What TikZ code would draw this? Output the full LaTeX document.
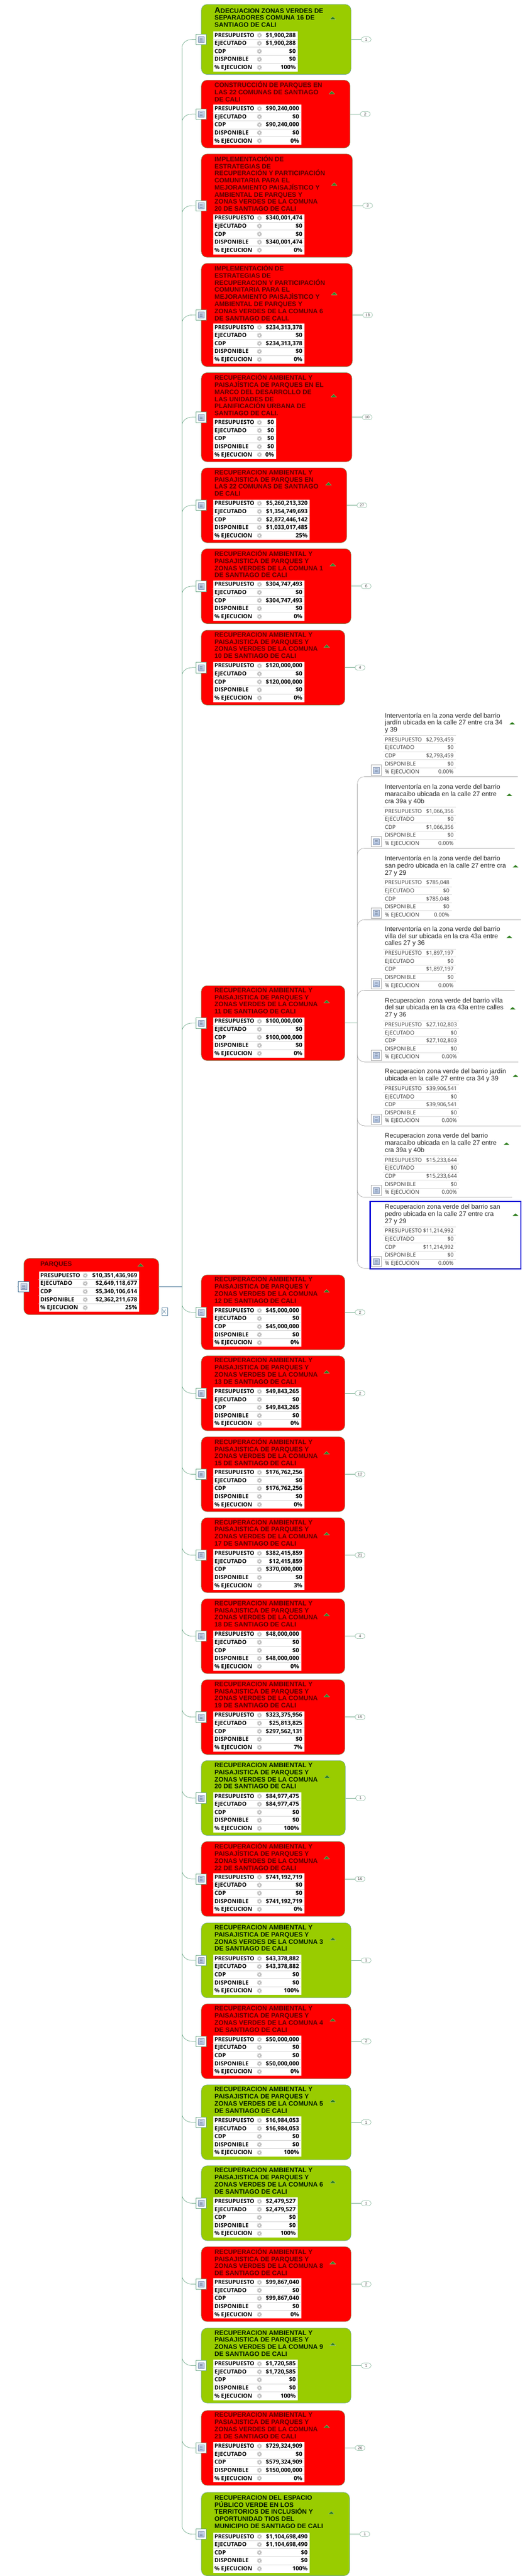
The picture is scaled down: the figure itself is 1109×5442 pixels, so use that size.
\documentclass[tikz,border=0pt]{standalone}
\usepackage{fontspec}
\setmainfont{Liberation Sans}
\newfontfamily\tablafont{Open Sans}
\usetikzlibrary{positioning}

\definecolor{rojo}{HTML}{FF0000}
\definecolor{verdeobra}{HTML}{99CC00}
\definecolor{bordeverde}{HTML}{6FA98A}
\definecolor{azulraiz}{HTML}{3A6A8F}
\definecolor{trigris}{HTML}{2F7F1F}
\definecolor{icono}{HTML}{A9BCDC}

\tikzset{
  tarjetaroja/.style={fill=rojo,draw=red!55!green!60!black!70,line width=0.6pt},
  tarjetaverde/.style={fill=verdeobra,draw=bordeverde,line width=0.6pt},
  tarjeta/.style={rectangle,rounded corners=9pt,anchor=north west,inner sep=0pt},
  tituloroja/.style={text=red!35!black},
  tituloverde/.style={text=black!90!green},
  titulo/.style={align=left,anchor=west,inner sep=0pt,font=\fontsize{10.25}{11.25}\selectfont\bfseries},
  titulohijo/.style={align=left,anchor=west,inner sep=0pt,text=black!85,font=\fontsize{10.3}{11.25}\selectfont},
  fondotabla/.style={fill=white,anchor=north west,inner sep=0pt},
  rotulo/.style={anchor=base west,inner sep=0pt,font=\tablafont\fontsize{9}{10}\selectfont\bfseries},
  cifra/.style={anchor=base east,inner sep=0pt,font=\tablafont\fontsize{9.2}{10}\selectfont\bfseries},
  rotulohijo/.style={anchor=base west,inner sep=0pt,text=black!80,font=\tablafont\fontsize{8.6}{10}\selectfont},
  cifrahijo/.style={anchor=base east,inner sep=0pt,text=black!80,font=\tablafont\fontsize{8.6}{10}\selectfont},
  nota/.style={fill=white,draw=bordeverde,line width=0.6pt,minimum size=16.5pt,inner sep=0pt},
  notagris/.style={fill=white,draw=gray!70,line width=0.6pt,minimum size=16.5pt,inner sep=0pt},
  notaraiz/.style={fill=white,draw=azulraiz,line width=0.6pt,minimum size=16.5pt,inner sep=0pt},
  notaicono/.style={top color=icono!60,bottom color=icono,draw=icono!80!black,line width=0.2pt,minimum size=9.5pt,inner sep=0pt,
    path picture={\foreach \d in {-2.2pt,0pt,2.2pt}
      \draw[icono!70!black,line width=0.25pt] ([xshift=2.5pt,yshift=\d]path picture bounding box.west) -- ([xshift=-2.5pt,yshift=\d]path picture bounding box.east);}},
  hoja/.style={draw=bordeverde,fill=white,rounded corners=4pt,minimum width=15.75pt,minimum height=8pt,inner sep=0pt,text=black!70,font=\fontsize{6.5}{8}\selectfont},
  ramalverde/.style={draw=bordeverde,line width=0.6pt},
  ramalgris/.style={draw=gray!75,line width=0.5pt},
  barragris/.style={draw=gray!65,line width=1.3pt},
  seleccion/.style={draw=blue!85!black,line width=1.7pt},
  engrane/.pic={
    \draw[gray!50,line width=1.1pt,dash pattern=on 1.2pt off 1pt] (0,0) circle (4.7);
    \draw[gray!55,line width=1.3pt] (0,0) circle (2.9);
  }
}

\newcommand{\nombrefila}[1]{\ifcase#1\or PRESUPUESTO\or EJECUTADO\or CDP\or DISPONIBLE\or \%~EJECUCION\fi}

% left edge of a card, and the indent of its table
\def\izq{425}
\def\sangria{25}

% name, top, right, table right, roja/verde, lines of title, title, values
\newcommand{\tarjeta}[8]{
  \pgfmathsetmacro\ttop{#2+7+15*#6}
  \pgfmathsetmacro\fondo{\ttop+91}
  \pgfmathsetmacro\medio{(#2+\fondo)/2}
  \pgfmathsetmacro\ancho{(#3-\izq)*0.75}
  \pgfmathsetmacro\alto{(\fondo-#2)*0.75}
  \pgfmathsetmacro\ytit{#2+(\ttop-#2)/2-1}
  \pgfmathsetmacro\xtab{\izq+\sangria}
  \pgfmathsetmacro\anchotab{(#4-\xtab)*0.75}
  \node[tarjeta,tarjeta#5,minimum width=\ancho pt,minimum height=\alto pt] (#1) at (\izq,#2) {};
  \node[titulo,titulo#5] (#1-titulo) at (\xtab+3,\ytit) {#7};
  \fill[trigris,draw=white!55!trigris,line width=0.3pt] (#3-44,\ytit+4.5) -- (#3-32,\ytit+4.5) -- (#3-38,\ytit-1.5) -- cycle;
  \node[fondotabla,minimum width=\anchotab pt,minimum height=63.75pt] (#1-tabla) at (\xtab,\ttop) {};
  \foreach \valor [count=\i] in {#8}{
    \pgfmathsetmacro\fila{\ttop+17*\i-8.5}
    \node[rotulo] (#1-r\i) at (\xtab+3,\fila+4) {\nombrefila{\i}};
    \node[cifra] (#1-v\i) at (#4-4,\fila+4) {\valor};
    \pic at (\xtab+98,\fila) {engrane};
    \ifnum\i<5 \draw[gray!35,line width=0.6pt] (\xtab,\fila+8.5) -- (#4,\fila+8.5); \fi
  }
}

% note box on the left of a card, with its branch from the green bus
\newcommand{\notacaja}[2]{
  \node[#2] (#1-nota) at (#1.west) {};
  \node[notaicono] (#1-icono) at (#1-nota) {};
}

\newcommand{\ramal}[1]{
  \notacaja{#1}{nota}
  \pgfmathsetmacro\signo{\medio<2720 ? 1 : -1}
  \pgfmathsetmacro\cruce{\medio+\signo*18}
  \coordinate (#1-cruce) at (384.5,\cruce);
  \draw[ramalverde] (#1-nota.west) -- ++(-8,0) .. controls +(-12,0) and +(0,{-\signo*10}) .. (#1-cruce);
}

\newcommand{\hojita}[2]{
  \node[hoja,right=15.75pt of #1] (#1-hoja) {#2};
  \draw[ramalverde] (#1) -- (#1-hoja);
}

% name, line y, line right, table right, lines of title, title, values
\newcommand{\hijo}[7]{
  \pgfmathsetmacro\ttop{#2-87}
  \pgfmathsetmacro\ytit{\ttop-2-7.5*#5-2}
  \pgfmathsetmacro\ancho{(#3-770)*0.75}
  \node[minimum width=\ancho pt,minimum height=5pt,anchor=south west,inner sep=0pt] (#1) at (770,#2) {};
  \node[titulohijo] (#1-titulo) at (813,\ytit) {#6};
  \fill[trigris] (#3-17,\ytit+3) -- (#3-5,\ytit+3) -- (#3-11,\ytit-2) -- cycle;
  \foreach \valor [count=\i] in {#7}{
    \pgfmathsetmacro\fila{\ttop+17*\i-8.5}
    \node[rotulohijo] (#1-r\i) at (813,\fila+4) {\nombrefila{\i}};
    \node[cifrahijo] (#1-v\i) at (#4-4.5,\fila+4) {\valor};
    \draw[gray!30,line width=0.6pt] (810,\fila-8.5) -- (#4,\fila-8.5);
  }
  \node[notagris] (#1-nota) at (795,#2-14) {};
  \node[notaicono] (#1-icono) at (#1-nota) {};
  \draw[ramalgris] (#1.south east) -- (#1.south west);
}

\begin{document}
\begin{tikzpicture}[x=0.75pt,y=-0.75pt]
\useasboundingbox (0,0) rectangle (1109,5442);

%root
\begin{scope}
\def\izq{50}
\def\sangria{32}
\tarjeta{raiz}{2658}{335}{294}{roja}{1.4}{PARQUES}{{\$10,351,436,969},{\$2,649,118,677},{\$5,340,106,614},{\$2,362,211,678},{25\%}}
\notacaja{raiz}{notaraiz}
\end{scope}
\coordinate (raiz-punta) at ([xshift=-1.5pt]raiz-nota.west);
\draw[azulraiz,line width=0.6pt] (raiz-nota.west) -- (raiz-punta);

%cards above the root
\tarjeta{p1}{9}{741}{629}{verde}{3.33}{{\fontsize{13}{13}\selectfont A}DECUACION ZONAS VERDES DE\\SEPARADORES  COMUNA 16 DE\\SANTIAGO DE CALI}{{\$1,900,288},{\$1,900,288},{\$0},{\$0},{100\%}}
\ramal{p1}\hojita{p1}{1}
\tarjeta{p2}{169}{739}{636}{roja}{3}{CONSTRUCCIÓN DE PARQUES EN\\LAS 22 COMUNAS DE SANTIAGO\\DE CALI}{{\$90,240,000},{\$0},{\$90,240,000},{\$0},{0\%}}
\ramal{p2}\hojita{p2}{2}
\tarjeta{p3}{325}{744}{643}{roja}{8}{IMPLEMENTACIÓN DE\\ESTRATEGIAS DE\\RECUPERACIÓN Y PARTICIPACIÓN\\COMUNITARIA PARA EL\\MEJORAMIENTO PAISAJÍSTICO Y\\AMBIENTAL DE PARQUES Y\\ZONAS VERDES DE LA COMUNA\\20 DE SANTIAGO DE CALI}{{\$340,001,474},{\$0},{\$0},{\$340,001,474},{0\%}}
\ramal{p3}\hojita{p3}{3}
\tarjeta{p4}{556}{744}{643}{roja}{8}{IMPLEMENTACIÓN DE\\ESTRATEGIAS DE\\RECUPERACION Y PARTICIPACIÓN\\COMUNITARIA PARA EL\\MEJORAMIENTO PAISAJÌSTICO Y\\AMBIENTAL DE PARQUES Y\\ZONAS VERDES DE LA COMUNA 6\\DE SANTIAGO DE CALI.}{{\$234,313,378},{\$0},{\$234,313,378},{\$0},{0\%}}
\ramal{p4}\hojita{p4}{18}
\tarjeta{p5}{787}{743}{583}{roja}{6}{RECUPERACIÓN AMBIENTAL Y\\PAISAJÍSTICA DE PARQUES EN EL\\MARCO DEL DESARROLLO DE\\LAS UNIDADES DE\\PLANIFICACIÓN URBANA DE\\SANTIAGO DE CALI.}{{\$0},{\$0},{\$0},{\$0},{0\%}}
\ramal{p5}\hojita{p5}{10}
\tarjeta{p6}{988}{732}{654}{roja}{4}{RECUPERACION AMBIENTAL Y\\PAISAJISTICA DE PARQUES EN\\LAS 22 COMUNAS DE SANTIAGO\\DE CALI}{{\$5,260,213,320},{\$1,354,749,693},{\$2,872,446,142},{\$1,033,017,485},{25\%}}
\ramal{p6}\hojita{p6}{27}
\tarjeta{p7}{1159}{741}{643}{roja}{4}{RECUPERACIÓN AMBIENTAL Y\\PAISAJISTICA DE PARQUES Y\\ZONAS VERDES DE LA COMUNA 1\\DE SANTIAGO DE CALI}{{\$304,747,493},{\$0},{\$304,747,493},{\$0},{0\%}}
\ramal{p7}\hojita{p7}{6}
\tarjeta{p8}{1331}{728}{643}{roja}{4}{RECUPERACION AMBIENTAL Y\\PAISAJISTICA DE PARQUES Y\\ZONAS VERDES DE LA COMUNA\\10 DE SANTIAGO DE CALI}{{\$120,000,000},{\$0},{\$120,000,000},{\$0},{0\%}}
\ramal{p8}\hojita{p8}{4}
\tarjeta{p9}{2082}{728}{643}{roja}{4}{RECUPERACION AMBIENTAL Y\\PAISAJISTICA DE PARQUES Y\\ZONAS VERDES DE LA COMUNA\\11 DE SANTIAGO DE CALI}{{\$100,000,000},{\$0},{\$100,000,000},{\$0},{0\%}}
\ramal{p9}

%children of comuna 11
\hijo{h1}{1641}{1093}{963}{3}{Interventoría en la zona verde del barrio\\jardín ubicada en la calle 27 entre cra 34\\y 39}{{\$2,793,459},{\$0},{\$2,793,459},{\$0},{0.00\%}}
\hijo{h2}{1792}{1087}{963}{3}{Interventoría en la zona verde del barrio\\maracaibo ubicada en la calle 27 entre\\cra 39a y 40b}{{\$1,066,356},{\$0},{\$1,066,356},{\$0},{0.00\%}}
\hijo{h3}{1943}{1100}{954}{3}{Interventoría en la zona verde del barrio\\san pedro ubicada en la calle 27 entre cra\\27 y 29}{{\$785,048},{\$0},{\$785,048},{\$0},{0.00\%}}
\hijo{h4}{2092}{1087}{963}{3}{Interventoría en la zona verde del barrio\\villa del sur ubicada en la cra 43a entre\\calles 27 y 36}{{\$1,897,197},{\$0},{\$1,897,197},{\$0},{0.00\%}}
\hijo{h5}{2243}{1094}{970}{3}{Recuperacion\ \ zona verde del barrio villa\\del sur ubicada en la cra 43a entre calles\\27 y 36}{{\$27,102,803},{\$0},{\$27,102,803},{\$0},{0.00\%}}
\hijo{h6}{2378}{1100}{970}{2}{Recuperacion zona verde del barrio jardín\\ubicada en la calle 27 entre cra 34 y 39}{{\$39,906,541},{\$0},{\$39,906,541},{\$0},{0.00\%}}
\hijo{h7}{2529}{1081}{970}{3}{Recuperacion zona verde del barrio\\maracaibo ubicada en la calle 27 entre\\cra 39a y 40b}{{\$15,233,644},{\$0},{\$15,233,644},{\$0},{0.00\%}}
\hijo{h8}{2679}{1100}{963}{3}{Recuperacion zona verde del barrio san\\pedro ubicada en la calle 27 entre cra\\27 y 29}{{\$11,214,992},{\$0},{\$11,214,992},{\$0},{0.00\%}}
\draw[seleccion] (782,2538) rectangle (1100,2681);

\coordinate (barra) at (755,2161);
\draw[barragris] (barra |- h1.south west) ++(0,15) -- ([yshift=11.25pt]barra |- h8.south west);
\draw[ramalverde] (p9) -- (barra);
\foreach \h in {h1,h2,h3,h4}
  \draw[ramalgris] (\h.south west) .. controls +(-10,0) and +(0,-8) .. ([yshift=-11.25pt]barra |- \h.south west);
\foreach \h in {h5,h6,h7,h8}
  \draw[ramalgris] (\h.south west) .. controls +(-10,0) and +(0,8) .. ([yshift=11.25pt]barra |- \h.south west);

%cards below the root
\tarjeta{p10}{2693}{728}{636}{roja}{4}{RECUPERACION AMBIENTAL Y\\PAISAJISTICA DE PARQUES Y\\ZONAS VERDES DE LA COMUNA\\12 DE SANTIAGO DE CALI}{{\$45,000,000},{\$0},{\$45,000,000},{\$0},{0\%}}
\ramal{p10}\hojita{p10}{2}
\tarjeta{p11}{2864}{728}{636}{roja}{4}{RECUPERACION AMBIENTAL Y\\PAISAJISTICA DE PARQUES Y\\ZONAS VERDES DE LA COMUNA\\13 DE SANTIAGO DE CALI}{{\$49,843,265},{\$0},{\$49,843,265},{\$0},{0\%}}
\ramal{p11}\hojita{p11}{2}
\tarjeta{p12}{3035}{728}{643}{roja}{4}{RECUPERACIÓN AMBIENTAL Y\\PAISAJISTICA DE PARQUES Y\\ZONAS VERDES DE LA COMUNA\\15 DE SANTIAGO DE CALI}{{\$176,762,256},{\$0},{\$176,762,256},{\$0},{0\%}}
\ramal{p12}\hojita{p12}{12}
\tarjeta{p13}{3206}{728}{643}{roja}{4}{RECUPERACION AMBIENTAL Y\\PAISAJISTICA DE PARQUES Y\\ZONAS VERDES DE LA COMUNA\\17 DE SANTIAGO DE CALI}{{\$382,415,859},{\$12,415,859},{\$370,000,000},{\$0},{3\%}}
\ramal{p13}\hojita{p13}{21}
\tarjeta{p14}{3377}{728}{636}{roja}{4}{RECUPERACION AMBIENTAL Y\\PAISAJISTICA DE PARQUES Y\\ZONAS VERDES DE LA COMUNA\\18 DE SANTIAGO DE CALI}{{\$48,000,000},{\$0},{\$0},{\$48,000,000},{0\%}}
\ramal{p14}\hojita{p14}{4}
\tarjeta{p15}{3548}{728}{643}{roja}{4}{RECUPERACION AMBIENTAL Y\\PAISAJISTICA DE PARQUES Y\\ZONAS VERDES DE LA COMUNA\\19 DE SANTIAGO DE CALI}{{\$323,375,956},{\$25,813,825},{\$297,562,131},{\$0},{7\%}}
\ramal{p15}\hojita{p15}{15}
\tarjeta{p16}{3719}{729}{636}{verde}{4}{RECUPERACION AMBIENTAL Y\\PAISAJISTICA DE PARQUES Y\\ZONAS VERDES DE LA COMUNA\\20 DE SANTIAGO DE CALI}{{\$84,977,475},{\$84,977,475},{\$0},{\$0},{100\%}}
\ramal{p16}\hojita{p16}{1}
\tarjeta{p17}{3890}{728}{643}{roja}{4}{RECUPERACIÓN AMBIENTAL Y\\PAISAJÍSTICA DE PARQUES Y\\ZONAS VERDES DE LA COMUNA\\22 DE SANTIAGO DE CALI}{{\$741,192,719},{\$0},{\$0},{\$741,192,719},{0\%}}
\ramal{p17}\hojita{p17}{16}
\tarjeta{p18}{4062}{741}{636}{verde}{4}{RECUPERACION AMBIENTAL Y\\PAISAJISTICA DE PARQUES Y\\ZONAS VERDES DE LA COMUNA 3\\DE SANTIAGO DE CALI}{{\$43,378,882},{\$43,378,882},{\$0},{\$0},{100\%}}
\ramal{p18}\hojita{p18}{1}
\tarjeta{p19}{4233}{741}{636}{roja}{4}{RECUPERACION AMBIENTAL Y\\PAISAJISTICA DE PARQUES Y\\ZONAS VERDES DE LA COMUNA 4\\DE SANTIAGO DE CALI}{{\$50,000,000},{\$0},{\$0},{\$50,000,000},{0\%}}
\ramal{p19}\hojita{p19}{2}
\tarjeta{p20}{4404}{741}{636}{verde}{4}{RECUPERACION AMBIENTAL Y\\PAISAJISTICA DE PARQUES Y\\ZONAS VERDES DE LA COMUNA 5\\DE SANTIAGO DE CALI}{{\$16,984,053},{\$16,984,053},{\$0},{\$0},{100\%}}
\ramal{p20}\hojita{p20}{1}
\tarjeta{p21}{4575}{741}{629}{verde}{4}{RECUPERACION AMBIENTAL Y\\PAISAJISTICA DE PARQUES Y\\ZONAS VERDES DE LA COMUNA 6\\DE SANTIAGO DE CALI}{{\$2,479,527},{\$2,479,527},{\$0},{\$0},{100\%}}
\ramal{p21}\hojita{p21}{1}
\tarjeta{p22}{4746}{741}{636}{roja}{4}{RECUPERACIÓN AMBIENTAL Y\\PAISAJISTICA DE PARQUES Y\\ZONAS VERDES DE LA COMUNA 8\\DE SANTIAGO DE CALI}{{\$99,867,040},{\$0},{\$99,867,040},{\$0},{0\%}}
\ramal{p22}\hojita{p22}{2}
\tarjeta{p23}{4918}{741}{629}{verde}{4}{RECUPERACION AMBIENTAL Y\\PAISAJISTICA DE PARQUES Y\\ZONAS VERDES DE LA COMUNA 9\\DE SANTIAGO DE CALI}{{\$1,720,585},{\$1,720,585},{\$0},{\$0},{100\%}}
\ramal{p23}\hojita{p23}{1}
\tarjeta{p24}{5092}{728}{643}{roja}{4}{RECUPERACION AMBIENTAL Y\\PASIAJISTICA DE PARQUES Y\\ZONAS VERDES DE LA COMUNA\\21 DE SANTIAGO DE CALI}{{\$729,324,909},{\$0},{\$579,324,909},{\$150,000,000},{0\%}}
\ramal{p24}\hojita{p24}{26}
\tarjeta{p25}{5265}{738}{654}{verde}{5.2}{RECUPERACION DEL ESPACIO\\PÚBLICO VERDE EN LOS\\TERRITORIOS DE INCLUSIÓN Y\\OPORTUNIDAD TIOS DEL\\MUNICIPIO DE SANTIAGO DE CALI}{{\$1,104,698,490},{\$1,104,698,490},{\$0},{\$0},{100\%}}
\ramal{p25}\hojita{p25}{1}

%green bus and its link to the root
\draw[ramalverde] (p1-cruce) -- (p25-cruce);
\coordinate (raiz-bus) at (p1-cruce |- raiz);
\draw[azulraiz,line width=0.6pt] (raiz) -- (raiz-bus);

%icon beside the root
\node[draw=azulraiz!80,fill=white,line width=0.5pt,minimum width=9.5pt,minimum height=12pt,inner sep=0pt] (raiz-adjunto) at (348,2771) {};
\draw[azulraiz!80,line width=0.6pt] (raiz-adjunto.north west) ++(1.5pt,-3pt) -- ++(5pt,-6pt) ++(-5pt,0) -- ++(5pt,6pt);
\end{tikzpicture}
\end{document}
